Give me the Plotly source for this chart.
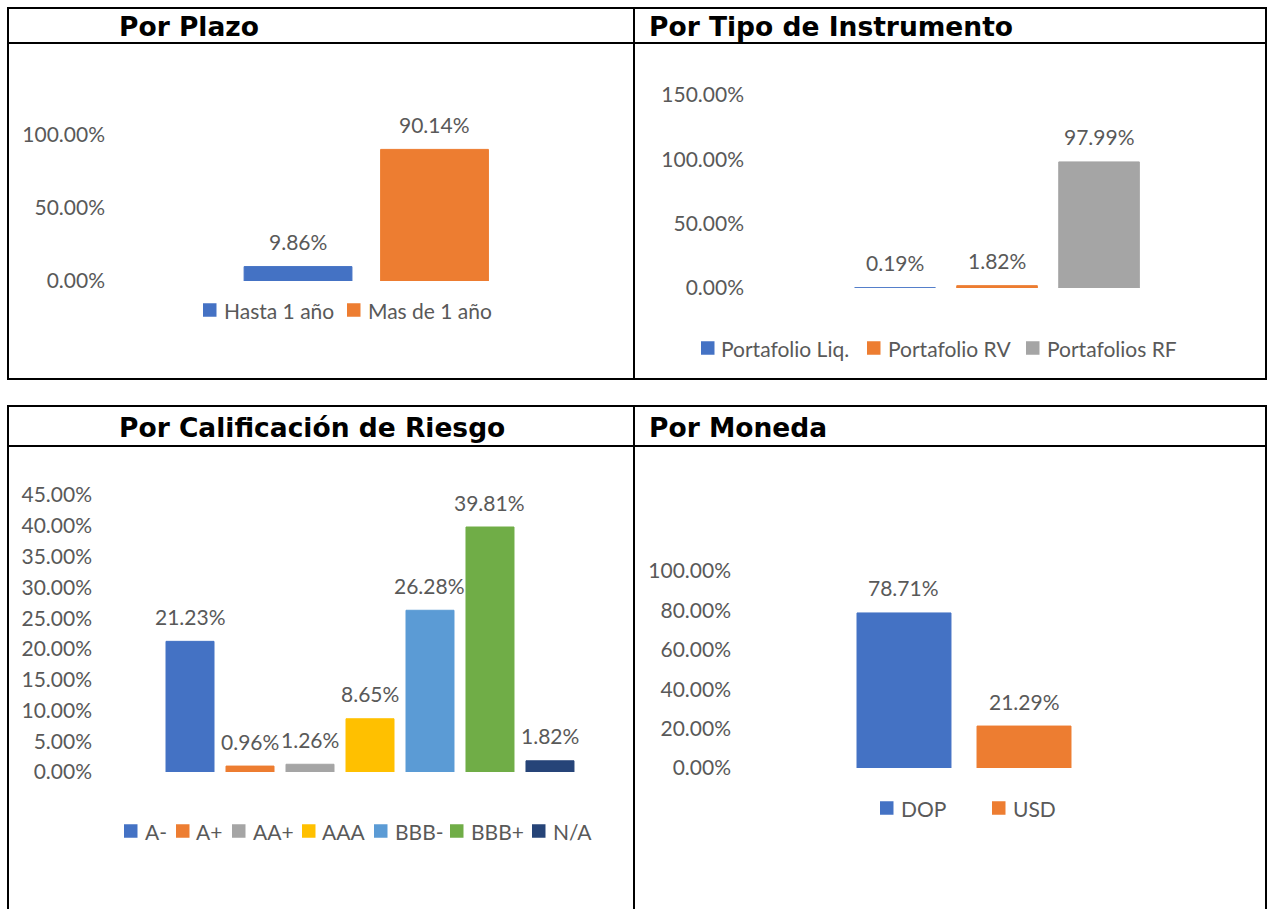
import plotly.graph_objects as go

# ---------------- data ----------------
plazo_cats = ["Hasta 1 año", "Mas de 1 año"]
plazo_vals = [0.0986, 0.9014]
plazo_ticks = [0.0, 0.5, 1.0]

tipo_cats = ["Portafolio Liq.", "Portafolio RV", "Portafolios RF"]
tipo_vals = [0.0019, 0.0182, 0.9799]
tipo_ticks = [0.0, 0.5, 1.0, 1.5]

calif_cats = ["A-", "A+", "AA+", "AAA", "BBB-", "BBB+", "N/A"]
calif_vals = [0.2123, 0.0096, 0.0126, 0.0865, 0.2628, 0.3981, 0.0182]
calif_ticks = [0.0, 0.05, 0.10, 0.15, 0.20, 0.25, 0.30, 0.35, 0.40, 0.45]

moneda_cats = ["DOP", "USD"]
moneda_vals = [0.7871, 0.2129]
moneda_ticks = [0.0, 0.2, 0.4, 0.6, 0.8, 1.0]

titles = ["Por Plazo", "Por Tipo de Instrumento", "Por Calificación de Riesgo", "Por Moneda"]

# ---------------- styling / layout ----------------
W, H = 1271, 909
BLUE, ORANGE, GRAY, YELLOW, LBLUE, GREEN, DBLUE = (
    "#4472C4", "#ED7D31", "#A5A5A5", "#FFC000", "#5B9BD5", "#70AD47", "#264478")
TXT = "#595959"
FONT = "Lato"
FS = 21


def px(x):
    return x / W


def py(y):
    return 1 - y / H


# legend key left edges (pixels) and row centre for each panel
legend_rows = [
    ([203, 347], 310),
    ([701, 867, 1026], 348),
    ([124, 176, 232, 302, 374, 450, 532], 831),
    ([880, 992], 808),
]
KEY = 13.5   # legend key square size
KEY_GAP = 5  # gap between key and label

fig = go.Figure()

panels = [
    (plazo_cats, plazo_vals, [BLUE, ORANGE], "", 0.79),
    (tipo_cats, tipo_vals, [BLUE, ORANGE, GRAY], "2", 0.79),
    (calif_cats, calif_vals, [BLUE, ORANGE, GRAY, YELLOW, LBLUE, GREEN, DBLUE], "3", 0.8),
    (moneda_cats, moneda_vals, [BLUE, ORANGE], "4", 0.783),
]

annotations = []
shapes = []
for (cats, vals, cols, sfx, bw), (lx, ly) in zip(panels, legend_rows):
    for c, v, col, kx in zip(cats, vals, cols, lx):
        fig.add_trace(go.Bar(
            x=[c], y=[v], name=c, width=[bw],
            marker=dict(color=col, line=dict(color=col, width=1)),
            xaxis="x" + sfx, yaxis="y" + sfx, showlegend=False,
            hovertemplate="%{x}: %{y:.2%}<extra></extra>",
        ))
        # data label
        annotations.append(dict(
            x=c, y=v, xref="x" + sfx, yref="y" + sfx, text=f"{v:.2%}",
            showarrow=False, yshift=25, yanchor="middle", xanchor="center",
            font=dict(family=FONT, size=FS, color=TXT)))
        # legend key + label
        shapes.append(dict(
            type="rect", xref="paper", yref="paper",
            x0=px(kx), x1=px(kx + KEY), y0=py(ly + KEY / 2), y1=py(ly - KEY / 2),
            fillcolor=col, line=dict(width=0)))
        annotations.append(dict(
            x=px(kx + KEY + KEY_GAP), y=py(ly), xref="paper", yref="paper", text=c,
            showarrow=False, xanchor="left", yanchor="middle",
            font=dict(family=FONT, size=FS, color=TXT)))


def xax(d0, d1, r0, r1, anchor):
    return dict(domain=[px(d0), px(d1)], range=[r0, r1], type="category",
                visible=False, fixedrange=True, anchor=anchor)


def yax(top, bottom, rng, ticks, anchor):
    return dict(domain=[py(bottom), py(top)], range=rng, tickmode="array",
                tickvals=ticks, tickformat=".2%", showgrid=False, zeroline=False,
                showline=False, ticks="", anchor=anchor, fixedrange=True,
                tickfont=dict(family=FONT, size=FS, color=TXT))


layout_axes = dict(
    xaxis=xax(106, 620, -1.407, 2.359, "y"),
    yaxis=yax(135, 281, [0, 1.0], plazo_ticks, "x"),
    xaxis2=xax(745, 1250, -1.471, 3.48, "y2"),
    yaxis2=yax(95, 288, [0, 1.5], tipo_ticks, "x2"),
    xaxis3=xax(93, 620, -1.617, 7.167, "y3"),
    yaxis3=yax(495, 772, [0, 0.4501], calif_ticks, "x3"),
    xaxis4=xax(732, 1250, -1.433, 2.883, "y4"),
    yaxis4=yax(571, 768, [0, 1.0], moneda_ticks, "x4"),
)

# panel titles
title_pos = [(119, 26), (649, 26), (119, 427), (649, 427)]
for t, (tx, ty) in zip(titles, title_pos):
    annotations.append(dict(
        x=px(tx - 2), y=py(ty), xref="paper", yref="paper", text=t, showarrow=False,
        xanchor="left", yanchor="middle",
        font=dict(family="DejaVu Sans", size=26.5, color="black", weight="bold")))

# table lines
LW = 2


def line(x0, y0, x1, y1):
    return dict(type="line", xref="paper", yref="paper", x0=px(x0), y0=py(y0),
                x1=px(x1), y1=py(y1), line=dict(color="black", width=LW))


shapes += [
    line(7, 8, 1267, 8), line(8, 43, 1266, 43), line(7, 379, 1267, 379),
    line(8, 8, 8, 379), line(634, 8, 634, 379), line(1266, 8, 1266, 379),
    line(7, 406, 1267, 406), line(8, 446, 1266, 446),
    line(8, 406, 8, 909), line(634, 406, 634, 909), line(1266, 406, 1266, 909),
]

fig.update_layout(
    width=W, height=H, margin=dict(l=0, r=0, t=0, b=0, autoexpand=False),
    paper_bgcolor="white", plot_bgcolor="white",
    barmode="overlay", showlegend=False,
    annotations=annotations, shapes=shapes,
    **layout_axes,
)

fig.write_html("out.html", config={"displayModeBar": False},
               post_script="document.body.style.margin='0';")
